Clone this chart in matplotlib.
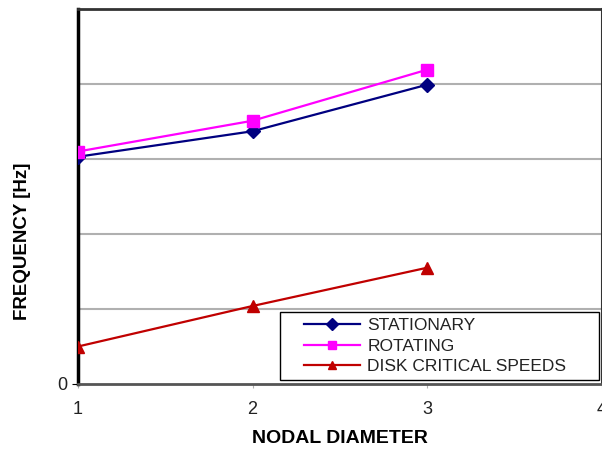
import matplotlib.pyplot as plt
from matplotlib.patches import Rectangle

plt.rcParams['font.family'] = ['Liberation Sans', 'DejaVu Sans']

nodal_diameter = [1, 2, 3]
stationary = [3.03, 3.37, 3.99]
rotating = [3.10, 3.51, 4.19]
disk_critical = [0.50, 1.04, 1.55]

fig = plt.figure(figsize=(6.02, 4.5), dpi=100)
ax = fig.add_axes([78 / 602, 66 / 450, 523.5 / 602, 375 / 450])

# gray horizontal gridlines
for gy in [1, 2, 3, 4]:
    ax.axhline(gy, color='#b0b0b0', linewidth=1.5, zorder=1)

ax.plot(nodal_diameter, stationary, color='#000080', marker='D', markersize=7,
        linewidth=1.6, label='STATIONARY', zorder=3)
ax.plot(nodal_diameter, rotating, color='#ff00ff', marker='s', markersize=9,
        linewidth=1.6, label='ROTATING', zorder=3)
ax.plot(nodal_diameter, disk_critical, color='#c00000', marker='^', markersize=9,
        linewidth=1.6, label='DISK CRITICAL SPEEDS', zorder=3)

ax.set_xlim(1, 4)
ax.set_ylim(0, 5)
ax.set_xticks([1, 2, 3, 4])
ax.set_xticklabels(['1', '2', '3', '4'], fontsize=13, color='#222222')
ax.set_yticks([0])
ax.set_yticklabels(['0'], fontsize=13, color='#222222')
ax.tick_params(axis='x', length=3, color='#b0b0b0', pad=9)
ax.tick_params(axis='y', length=4, pad=4)

ax.spines['left'].set_linewidth(2.5)
ax.spines['bottom'].set_linewidth(2)
ax.spines['bottom'].set_color('#555555')
ax.spines['top'].set_linewidth(2)
ax.spines['top'].set_color('#333333')
ax.spines['right'].set_linewidth(1.5)
ax.spines['right'].set_color('#333333')

ax.set_xlabel('NODAL DIAMETER', fontsize=14, fontweight='bold', labelpad=9)
fig.text(22.5 / 602, 1 - 241 / 450, 'FREQUENCY [Hz]', rotation=90, fontsize=13.5,
         fontweight='bold', ha='center', va='center')

# legend box drawn by hand so the entries can sit centred inside a wide frame
box_x, box_y, box_w, box_h = 0.386, 0.0107, 0.609, 0.181
ax.add_patch(Rectangle((box_x, box_y), box_w, box_h, transform=ax.transAxes,
                       facecolor='white', edgecolor='black', linewidth=1.0, zorder=4))
leg = ax.legend(loc='center', bbox_to_anchor=(box_x + box_w / 2 - 0.008, box_y + box_h / 2),
                fontsize=12.5, frameon=False, handlelength=3.2, borderpad=0.1,
                labelspacing=0.3, handletextpad=0.45)
leg.set_zorder(5)
for h in leg.legend_handles:
    h.set_markersize(6)
for t in leg.get_texts():
    t.set_color('#222222')

fig.savefig('out.png', dpi=100)
